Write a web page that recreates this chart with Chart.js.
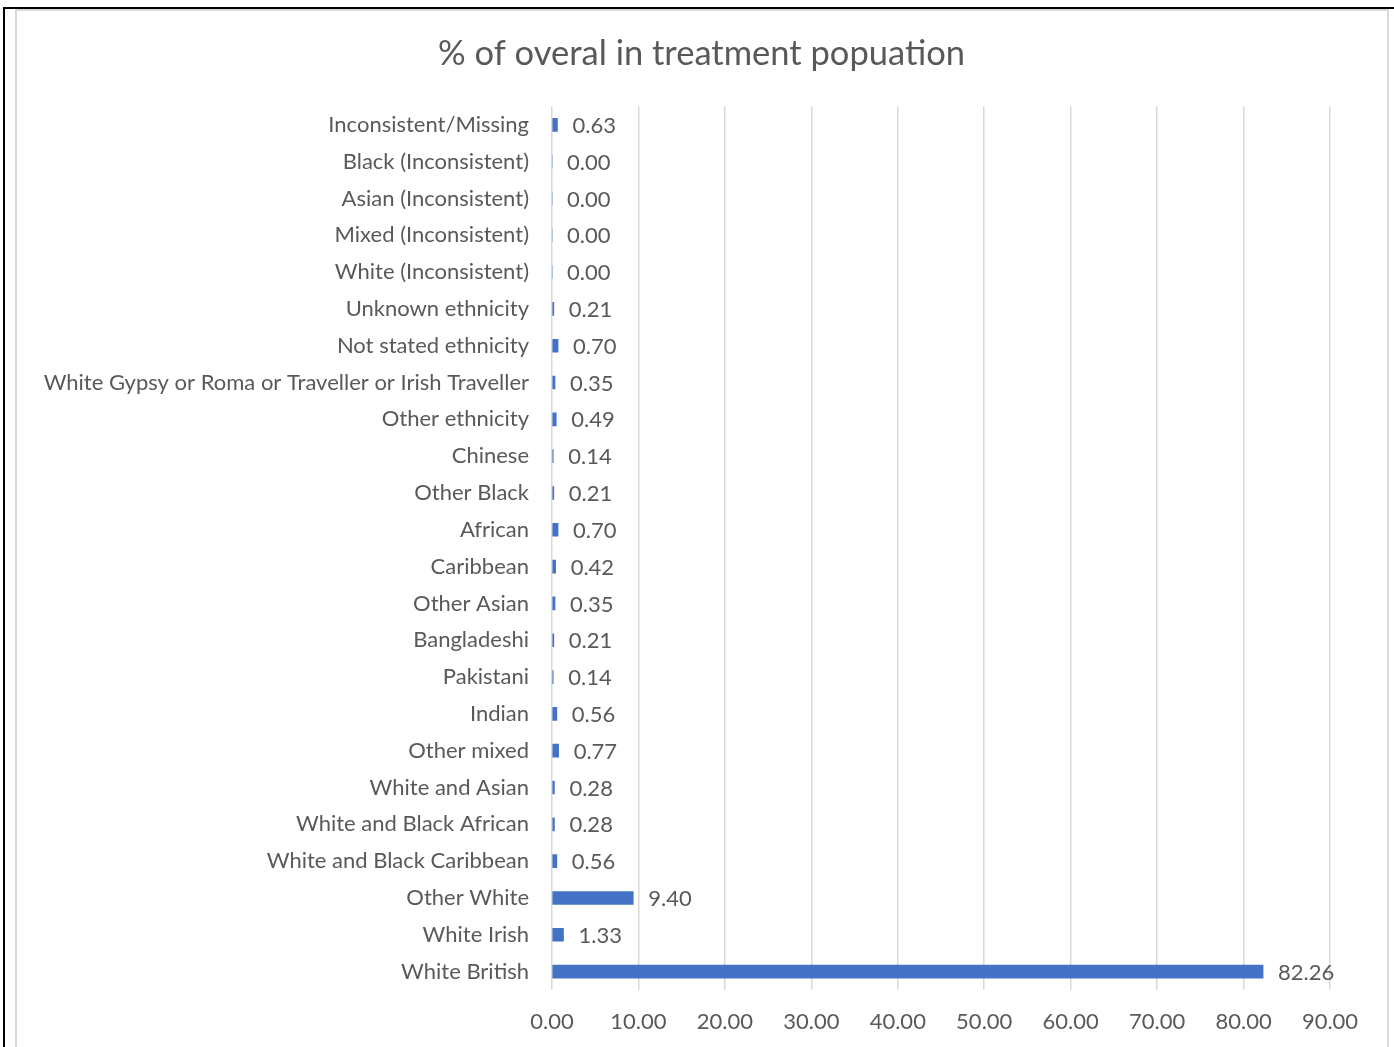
<!DOCTYPE html>
<html>
<head>
<meta charset="utf-8">
<script src="https://cdn.jsdelivr.net/npm/chart.js@4/dist/chart.umd.min.js"></script>
<style>
  html, body { margin: 0; padding: 0; background: #fff; overflow: hidden; }
  #outer { position: absolute; left: 3px; top: 7px; width: 1400px; height: 1100px;
           border-top: 2px solid #000; border-left: 2px solid #000; }
  #frame { position: absolute; left: 15px; top: 9px; width: 1370px; height: 1100px;
           border: 2px solid #d9d9d9; }
  #wrap { position: absolute; left: 0; top: 0; width: 1394px; height: 1047px; }
</style>
</head>
<body>
<div id="outer"></div>
<div id="frame"></div>
<div id="wrap"><canvas id="chart" width="1394" height="1047"></canvas></div>
<script>
// categories, top to bottom as shown
const categories = [
  'Inconsistent/Missing', 'Black (Inconsistent)', 'Asian (Inconsistent)', 'Mixed (Inconsistent)',
  'White (Inconsistent)', 'Unknown ethnicity', 'Not stated ethnicity',
  'White Gypsy or Roma or Traveller or Irish Traveller', 'Other ethnicity', 'Chinese',
  'Other Black', 'African', 'Caribbean', 'Other Asian', 'Bangladeshi', 'Pakistani', 'Indian',
  'Other mixed', 'White and Asian', 'White and Black African', 'White and Black Caribbean',
  'Other White', 'White Irish', 'White British'
];
const percentValues = [
  0.63, 0.00, 0.00, 0.00, 0.00, 0.21, 0.70, 0.35, 0.49, 0.14, 0.21, 0.70,
  0.42, 0.35, 0.21, 0.14, 0.56, 0.77, 0.28, 0.28, 0.56, 9.40, 1.33, 82.26
];
const xTicks = [0, 10, 20, 30, 40, 50, 60, 70, 80, 90];

const textColor = '#595959';
const fontFamily = 'Lato, "Open Sans", sans-serif';

// value labels to the right of each bar
const barLabels = {
  id: 'barLabels',
  afterDatasetsDraw(chart) {
    const ctx = chart.ctx;
    const meta = chart.getDatasetMeta(0);
    ctx.save();
    ctx.font = '22px ' + fontFamily;
    ctx.fillStyle = textColor;
    ctx.textAlign = 'left';
    ctx.textBaseline = 'middle';
    meta.data.forEach((bar, i) => {
      ctx.fillText(percentValues[i].toFixed(2), bar.x + 15, bar.y + 1);
    });
    ctx.restore();
  }
};

new Chart(document.getElementById('chart'), {
  type: 'bar',
  data: {
    labels: categories,
    datasets: [{
      data: percentValues,
      backgroundColor: '#4472c4',
      barThickness: 13
    }]
  },
  options: {
    indexAxis: 'y',
    responsive: false,
    animation: false,
    layout: { padding: { left: 17, right: 8, top: 10, bottom: 0 } },
    plugins: {
      legend: { display: false },
      tooltip: { enabled: false },
      title: {
        display: true,
        text: '% of overal in treatment popuation',
        color: textColor,
        font: { family: fontFamily, size: 34.5, weight: 'normal' },
        padding: { top: 23, bottom: 32 }
      }
    },
    scales: {
      x: {
        min: 0,
        max: 90,
        afterBuildTicks: scale => { scale.ticks = xTicks.map(v => ({ value: v })); },
        afterFit: scale => { scale.paddingRight = 64; scale.height = 57; },
        grid: { color: '#d9d9d9', lineWidth: 1.5, drawTicks: false },
        border: { display: false },
        ticks: {
          color: textColor,
          padding: 19,
          font: { family: fontFamily, size: 22 },
          callback: v => Number(v).toFixed(2)
        }
      },
      y: {
        afterFit: scale => { scale.width = 535; },
        grid: { display: false },
        border: { display: false },
        ticks: {
          color: textColor,
          padding: 15,
          autoSkip: false,
          font: { family: fontFamily, size: 22 }
        }
      }
    }
  },
  plugins: [barLabels]
});
</script>
</body>
</html>
